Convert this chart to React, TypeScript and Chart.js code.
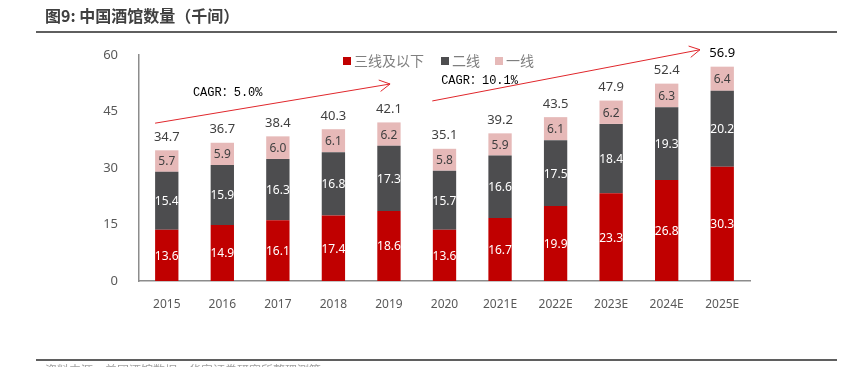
import React, { useEffect, useRef } from "react";
import { Chart, registerables } from "chart.js";

Chart.register(...registerables);

const categories = ["2015", "2016", "2017", "2018", "2019", "2020", "2021E", "2022E", "2023E", "2024E", "2025E"];
const tier3Below = [13.6, 14.9, 16.1, 17.4, 18.6, 13.6, 16.7, 19.9, 23.3, 26.8, 30.3];
const tier2 = [15.4, 15.9, 16.3, 16.8, 17.3, 15.7, 16.6, 17.5, 18.4, 19.3, 20.2];
const tier1 = [5.7, 5.9, 6.0, 6.1, 6.2, 5.8, 5.9, 6.1, 6.2, 6.3, 6.4];
const totals = [34.7, 36.7, 38.4, 40.3, 42.1, 35.1, 39.2, 43.5, 47.9, 52.4, 56.9];
const yTicks = [0, 15, 30, 45, 60];
const seriesNames = ["三线及以下", "二线", "一线"];
const seriesColors = ["#C00000", "#4D4D4F", "#E6B9B8"];
const labelColors = ["#FFFFFF", "#FFFFFF", "#404040"];
const titleText = "图9: 中国酒馆数量（千间）";
const sourceText = "资料来源：美团酒馆数据，华安证券研究所整理测算";
// CAGR annotations in data coordinates (category index, value)
const cagrNotes = [
  { text: "CAGR：5.0%", x: 0.47, y: 50.0, from: [-0.21, 41.9], to: [4.02, 52.3] },
  { text: "CAGR：10.1%", x: 4.94, y: 53.2, from: [4.78, 47.8], to: [9.6, 61.4] },
];

const overlayPlugin = {
  id: "overlay",
  afterDatasetsDraw(chart: any) {
    const ctx = chart.ctx;
    const xs = chart.scales.x;
    const ys = chart.scales.y;
    ctx.save();
    // segment labels
    chart.data.datasets.forEach((ds: any, di: number) => {
      const meta = chart.getDatasetMeta(di);
      meta.data.forEach((el: any, i: number) => {
        const v = ds.data[i];
        const cy = (el.y + el.base) / 2;
        ctx.font = "12px 'Noto Sans'";
        ctx.fillStyle = labelColors[di];
        ctx.textAlign = "center";
        ctx.textBaseline = "middle";
        ctx.fillText(v.toFixed(1), el.x, cy + 1);
      });
    });
    // totals
    const lastMeta = chart.getDatasetMeta(chart.data.datasets.length - 1);
    lastMeta.data.forEach((el: any, i: number) => {
      ctx.font = "13px 'Noto Sans'";
      ctx.fillStyle = i === totals.length - 1 ? "#000000" : "#404040";
      ctx.textAlign = "center";
      ctx.textBaseline = "middle";
      ctx.fillText(totals[i].toFixed(1), el.x, el.y - 13);
    });
    // CAGR arrows
    cagrNotes.forEach((n) => {
      const x1 = xs.getPixelForValue(n.from[0]);
      const y1 = ys.getPixelForValue(n.from[1]);
      const x2 = xs.getPixelForValue(n.to[0]);
      const y2 = ys.getPixelForValue(n.to[1]);
      ctx.strokeStyle = "#E0262B";
      ctx.lineWidth = 1;
      ctx.beginPath();
      ctx.moveTo(x1, y1);
      ctx.lineTo(x2, y2);
      const ang = Math.atan2(y2 - y1, x2 - x1);
      const len = 12;
      const spread = 0.5;
      ctx.moveTo(x2 - len * Math.cos(ang - spread), y2 - len * Math.sin(ang - spread));
      ctx.lineTo(x2, y2);
      ctx.lineTo(x2 - len * Math.cos(ang + spread), y2 - len * Math.sin(ang + spread));
      ctx.stroke();
      ctx.font = "12px 'Liberation Mono', 'Noto Sans CJK SC'";
      ctx.fillStyle = "#000000";
      ctx.textAlign = "left";
      ctx.textBaseline = "middle";
      ctx.fillText(n.text, xs.getPixelForValue(n.x), ys.getPixelForValue(n.y));
    });
    // legend
    const legendX = [343, 441, 495];
    ctx.font = "14px 'Noto Sans CJK SC'";
    ctx.textBaseline = "middle";
    ctx.textAlign = "left";
    seriesNames.forEach((name, i) => {
      ctx.fillStyle = seriesColors[i];
      ctx.fillRect(legendX[i], 57, 8, 8);
      ctx.fillStyle = "#7F7F7F";
      ctx.fillText(name, legendX[i] + 11, 61);
    });
    // title and rules
    ctx.font = "bold 16px 'Noto Sans CJK SC'";
    ctx.fillStyle = "#404040";
    ctx.fillText(titleText, 45, 16);
    ctx.fillStyle = "#5F5F5F";
    ctx.fillRect(36, 31, 801, 2);
    ctx.fillRect(36, 359, 801, 2);
    ctx.font = "12px 'Noto Sans CJK SC'";
    ctx.fillStyle = "#A0A0A0";
    ctx.textBaseline = "top";
    ctx.fillText(sourceText, 45, 364);
    ctx.restore();
  },
};

export default function App() {
  const ref = useRef<HTMLCanvasElement>(null);
  useEffect(() => {
    document.body.style.margin = "0";
    const chart = new Chart(ref.current!, {
      type: "bar",
      data: {
        labels: categories,
        datasets: [tier3Below, tier2, tier1].map((d, i) => ({
          label: seriesNames[i],
          data: d,
          backgroundColor: seriesColors[i],
          borderWidth: 0,
          categoryPercentage: 1,
          barPercentage: 0.42,
        })),
      },
      options: {
        responsive: false,
        animation: false,
        devicePixelRatio: 1,
        layout: { padding: { left: 100, right: 118, top: 55, bottom: 56 } },
        plugins: { legend: { display: false }, tooltip: { enabled: false }, title: { display: false } },
        scales: {
          x: {
            stacked: true,
            grid: { display: false },
            border: { display: true, color: "#8C8C8C", width: 1.5 },
            ticks: { color: "#595959", font: { size: 12, family: "'Noto Sans'" }, padding: 8, maxRotation: 0, autoSkip: false },
            afterFit: (s: any) => { s.height = 30; },
          },
          y: {
            stacked: true,
            min: 0,
            max: 60,
            grid: { display: false },
            border: { display: true, color: "#8C8C8C", width: 1.5 },
            afterBuildTicks: (s: any) => { s.ticks = yTicks.map((v) => ({ value: v })); },
            ticks: { color: "#595959", font: { size: 13, family: "'Noto Sans'" }, padding: 13 },
            afterFit: (s: any) => { s.width = 39; },
          },
        },
      },
      plugins: [overlayPlugin],
    });
    return () => chart.destroy();
  }, []);
  return <canvas ref={ref} width={868} height={367} style={{ display: "block" }} />;
}
